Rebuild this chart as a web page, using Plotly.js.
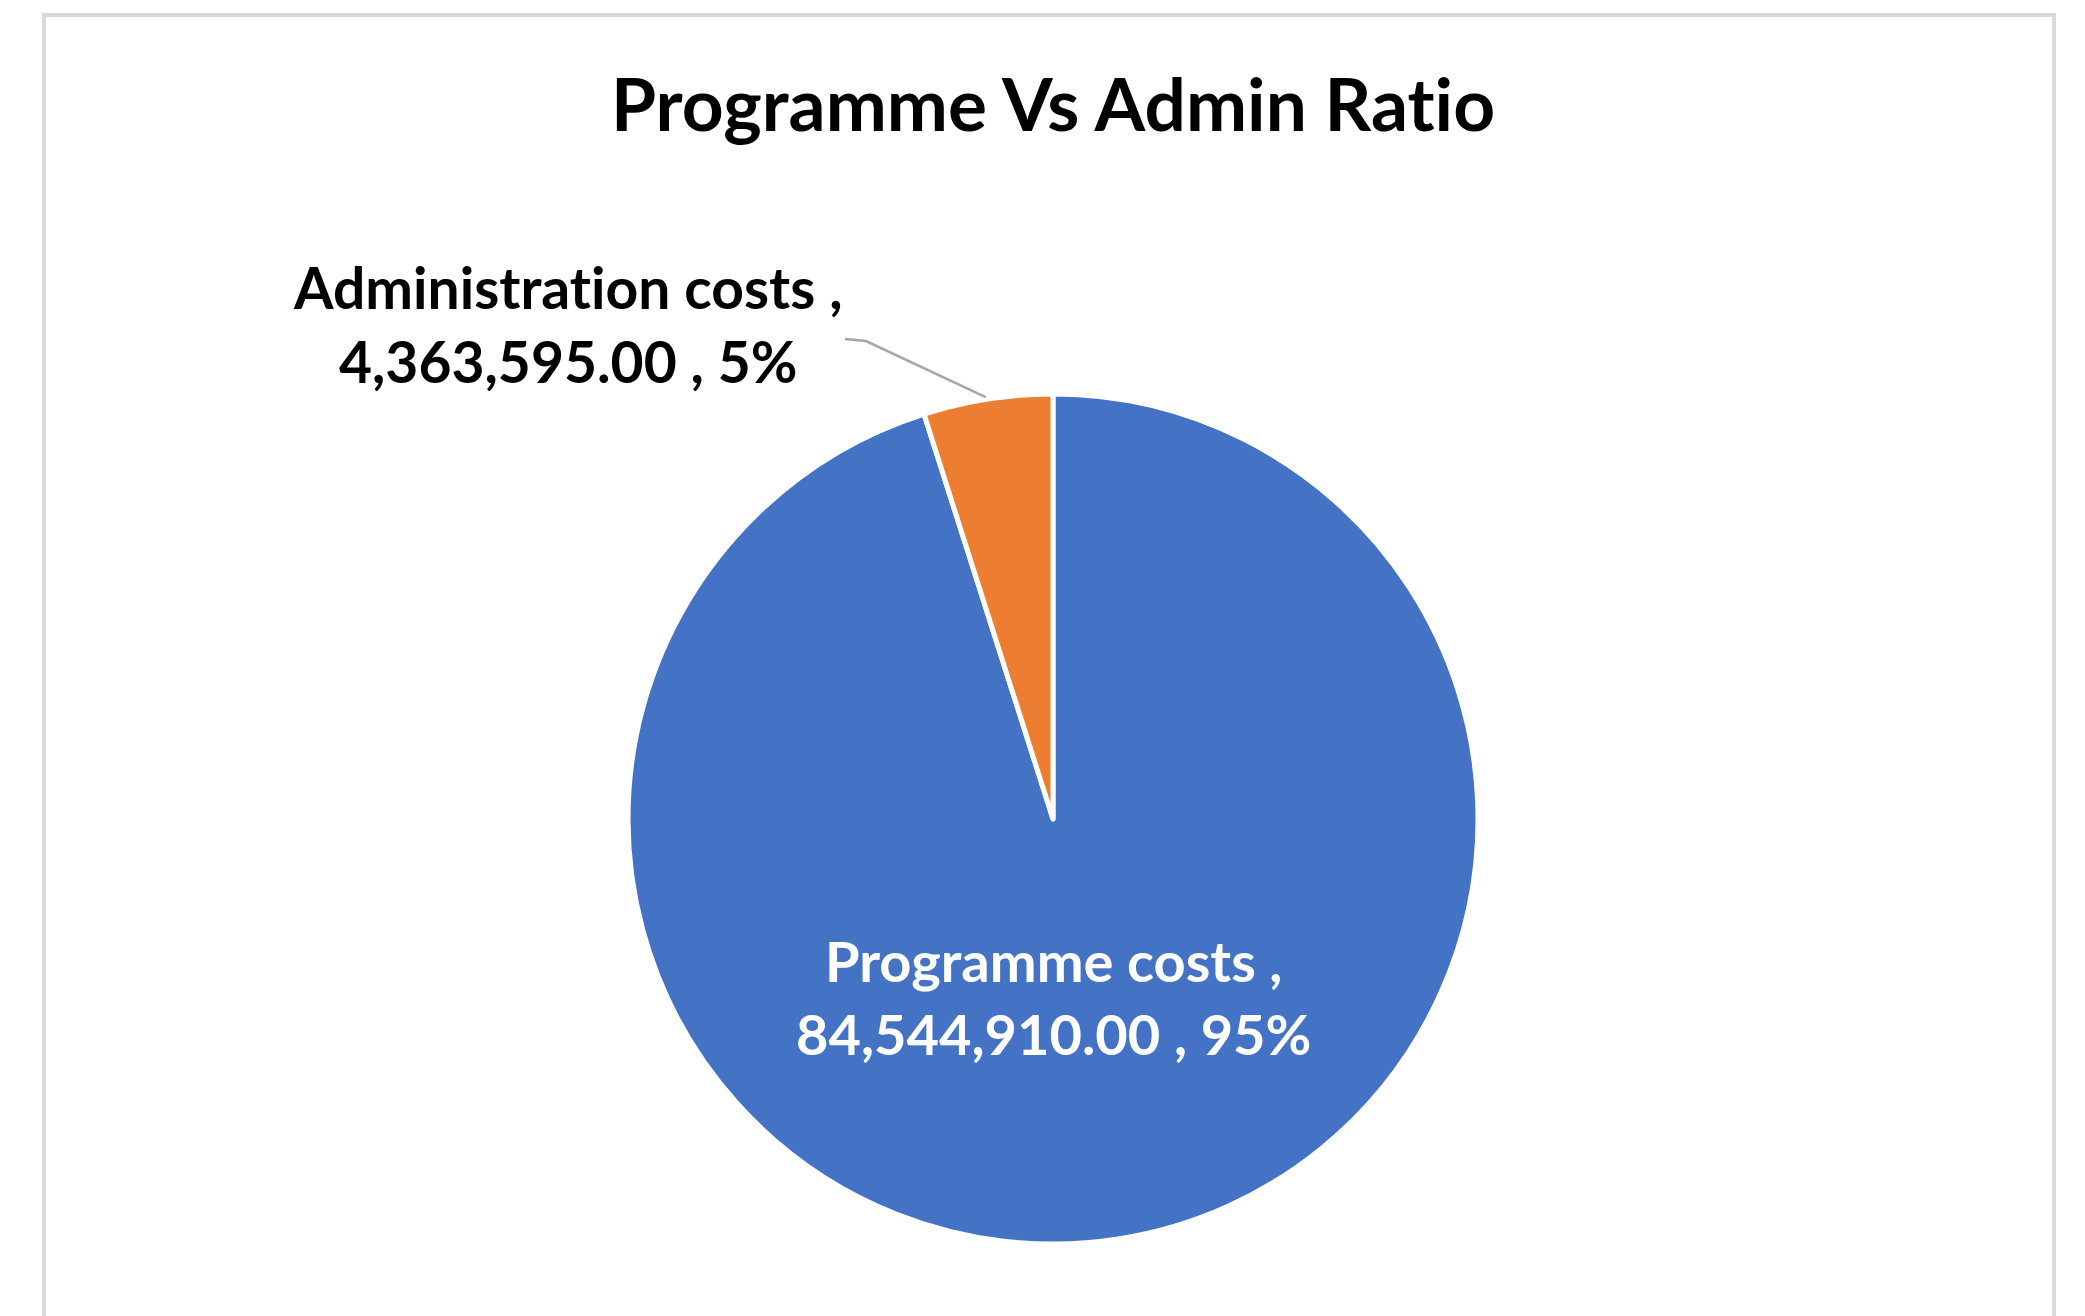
<!DOCTYPE html>
<html>
<head>
<meta charset="utf-8">
<script src="https://cdn.plot.ly/plotly-3.0.1.min.js"></script>
<style>html,body{margin:0;padding:0;background:#fff;}#chart{width:2085px;height:1316px;}text{font-variant-ligatures:none;font-feature-settings:"liga" 0;}</style>
</head>
<body>
<div id="chart"></div>
<script>
const categories = ["Programme costs", "Administration costs"];
const values = [84544910.00, 4363595.00];
const colors = ["#4472C4", "#ED7D31"];
const chartTitle = "Programme Vs Admin Ratio";

const FONT = "Lato, 'Open Sans', sans-serif";
const W = 2085, H = 1316;
const cx = 1053, cy = 819, R = 425;
const dom = {x: [(cx - R) / W, (cx + R) / W], y: [(H - cy - R) / H, (H - cy + R) / H]};

const total = values.reduce((a, b) => a + b, 0);
const fmt = v => v.toLocaleString('en-US', {minimumFractionDigits: 2, maximumFractionDigits: 2});
const pct = v => Math.round(v / total * 100) + '%';
const labelText = i => categories[i] + ' ,<br>' + fmt(values[i]) + ' , ' + pct(values[i]);

const trace = {
  type: 'pie',
  labels: categories,
  values: values,
  sort: false,
  direction: 'clockwise',
  rotation: 0,
  domain: dom,
  marker: {colors: colors, line: {color: '#ffffff', width: 5}},
  textinfo: 'none',
  hoverinfo: 'none',
  showlegend: false
};

// leader-line tip at midangle of the admin slice (computed from the data)
const startFrac = values[0] / total;
const midFrac = startFrac + values[1] / total / 2;
const ang = midFrac * 2 * Math.PI; // clockwise from top
const tipPx = [cx + R * Math.sin(ang), cy - R * Math.cos(ang)];
const px = (x, y) => (x / W) + ',' + (1 - y / H);

const layout = {
  width: W, height: H,
  margin: {l: 0, r: 0, t: 0, b: 0},
  paper_bgcolor: '#ffffff',
  title: {
    text: chartTitle,
    x: 1053 / W, xanchor: 'center',
    y: 1 - 105 / H, yanchor: 'middle',
    font: {family: FONT, size: 73, color: '#000000', weight: 'bold'}
  },
  shapes: [
    {
      type: 'rect', xref: 'paper', yref: 'paper',
      x0: 44 / W, x1: 2054 / W, y0: -0.05, y1: 1 - 15 / H,
      line: {color: '#d9d9d9', width: 4}, fillcolor: 'rgba(0,0,0,0)', layer: 'below'
    },
    {
      type: 'path', xref: 'paper', yref: 'paper',
      path: 'M' + px(845, 339) + 'L' + px(866, 341) + 'L' + px(tipPx[0] - 2, tipPx[1] - 2),
      line: {color: '#a6a6a6', width: 2.5}
    }
  ],
  annotations: [
    {
      xref: 'paper', yref: 'paper',
      x: 567 / W, y: 1 - 324 / H, xanchor: 'center', yanchor: 'middle',
      text: labelText(1),
      showarrow: false, align: 'center',
      font: {family: FONT, size: 57, color: '#000000', weight: 'bold'}
    },
    {
      xref: 'paper', yref: 'paper',
      x: 1053 / W, y: 1 - 997 / H, xanchor: 'center', yanchor: 'middle',
      text: labelText(0),
      showarrow: false, align: 'center',
      font: {family: FONT, size: 56, color: '#ffffff', weight: 'bold'}
    }
  ]
};

Plotly.newPlot('chart', [trace], layout, {displayModeBar: false, staticPlot: true});
</script>
</body>
</html>
